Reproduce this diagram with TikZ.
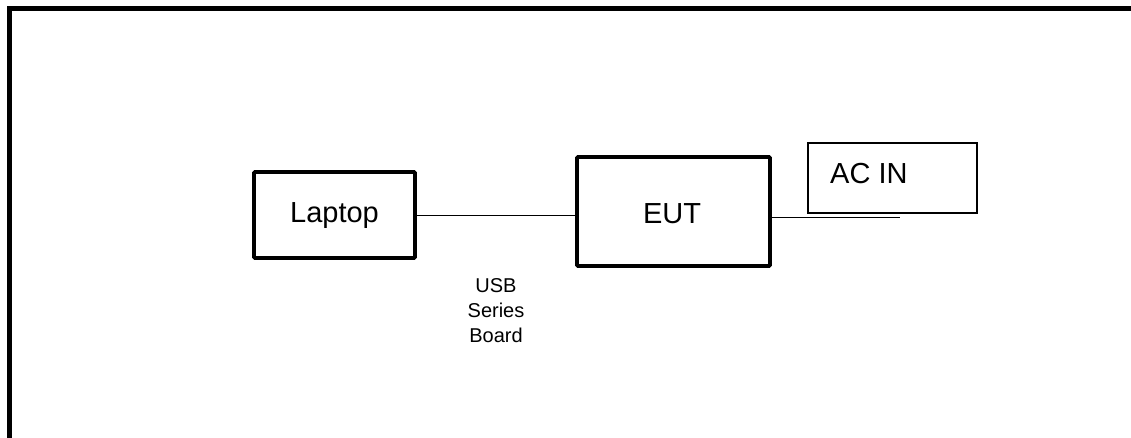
\documentclass[tikz,border=0pt]{standalone}
\usepackage{fontspec}
\setmainfont{Liberation Sans}
\begin{document}
\begin{tikzpicture}[x=1pt,y=-1pt,
  thickbox/.style={draw, line width=3.8pt, rounded corners=1pt, inner sep=0pt},
  thinbox/.style={draw, line width=1.4pt, inner sep=0pt},
  bigtext/.style={font=\fontsize{29}{34}\selectfont},
  smalltext/.style={font=\fontsize{20}{25}\selectfont, align=center},
  wire/.style={line width=1.2pt}]
\useasboundingbox (0,0) rectangle (1131,437);
% outer frame (only top and left edges visible)
\draw[line width=5pt] (9.5,450) -- (9.5,8.5) -- (1145,8.5);
% nodes
\node[thickbox, minimum width=161pt, minimum height=86pt] (laptop) at (334.5,215) {};
\node[bigtext, anchor=base, inner sep=0pt] (laptoptext) at (334.5,222) {Laptop};
\node[thickbox, minimum width=193pt, minimum height=109pt] (eut) at (673.5,211.5) {};
\node[bigtext, anchor=base, inner sep=0pt] (euttext) at (672,223) {EUT};
\node[thinbox, minimum width=169pt, minimum height=70pt] (acin) at (892.5,178) {};
\node[bigtext, anchor=base west, inner sep=0pt] (acintext) at (830,183) {AC IN};
\node[smalltext, anchor=base, inner sep=0pt] (usb) at (496,342) {USB\\Series\\Board};
\coordinate (acend) at (900,217.7);
% connectors
\draw[wire] (laptop.east |- 0,215.7) -- (eut.west |- 0,215.7);
\draw[wire] (eut.east |- acend) -- (acend);
\end{tikzpicture}
\end{document}
